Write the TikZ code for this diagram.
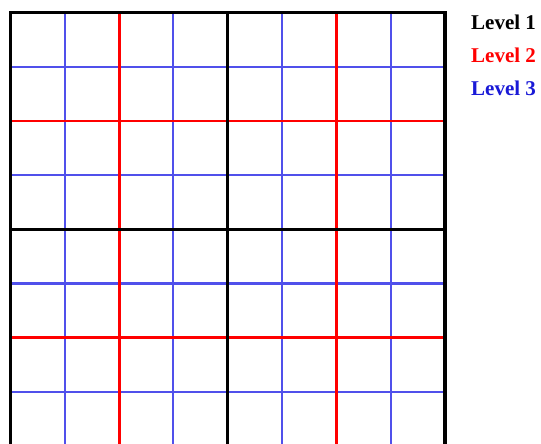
\documentclass[tikz,border=0pt]{standalone}
\usepackage{fontspec}
\setmainfont{Liberation Serif}
\definecolor{lvlblue}{RGB}{80,80,235}
\definecolor{lvlred}{RGB}{255,0,0}
\definecolor{txtblue}{RGB}{25,25,215}
\begin{document}
\begin{tikzpicture}[x=1pt,y=-1pt,
  lvlone/.style={draw=black,line width=3.5pt,line cap=rect},
  lvltwo/.style={draw=lvlred,line width=2.8pt},
  lvlthree/.style={draw=lvlblue,line width=2.1pt},
  legend/.style={anchor=base west,inner sep=0pt,font=\fontsize{21}{24}\selectfont\bfseries}]
\useasboundingbox (0,0) rectangle (541,444);
\fill[white] (0,0) rectangle (541,444);
\begin{scope}
\clip (0,0) rectangle (541,444);
% level 3
\foreach \i in {1,3,5,7} {
  \draw[lvlthree] ({10.5+\i*54.3},12.5) -- ({10.5+\i*54.3},470);
  \draw[lvlthree] (10.5,{12.5+\i*54.2}) -- (445,{12.5+\i*54.2});
}
% level 2
\foreach \i in {2,6} {
  \draw[lvltwo] ({10.5+\i*54.3},12.5) -- ({10.5+\i*54.3},470);
  \draw[lvltwo] (10.5,{12.5+\i*54.2}) -- (445,{12.5+\i*54.2});
}
% level 1
\draw[lvlone] (10.5,470) -- (10.5,12.5) -- (445,12.5) -- (445,470);
\draw[lvlone] (227.7,12.5) -- (227.7,470);
\draw[lvlone] (10.5,229.3) -- (445,229.3);
\end{scope}
\node[legend,text=black] (l1) at (471,29.5) {Level 1};
\node[legend,text=lvlred] (l2) at (471,62.5) {Level 2};
\node[legend,text=txtblue] (l3) at (471,95.5) {Level 3};
\end{tikzpicture}
\end{document}
